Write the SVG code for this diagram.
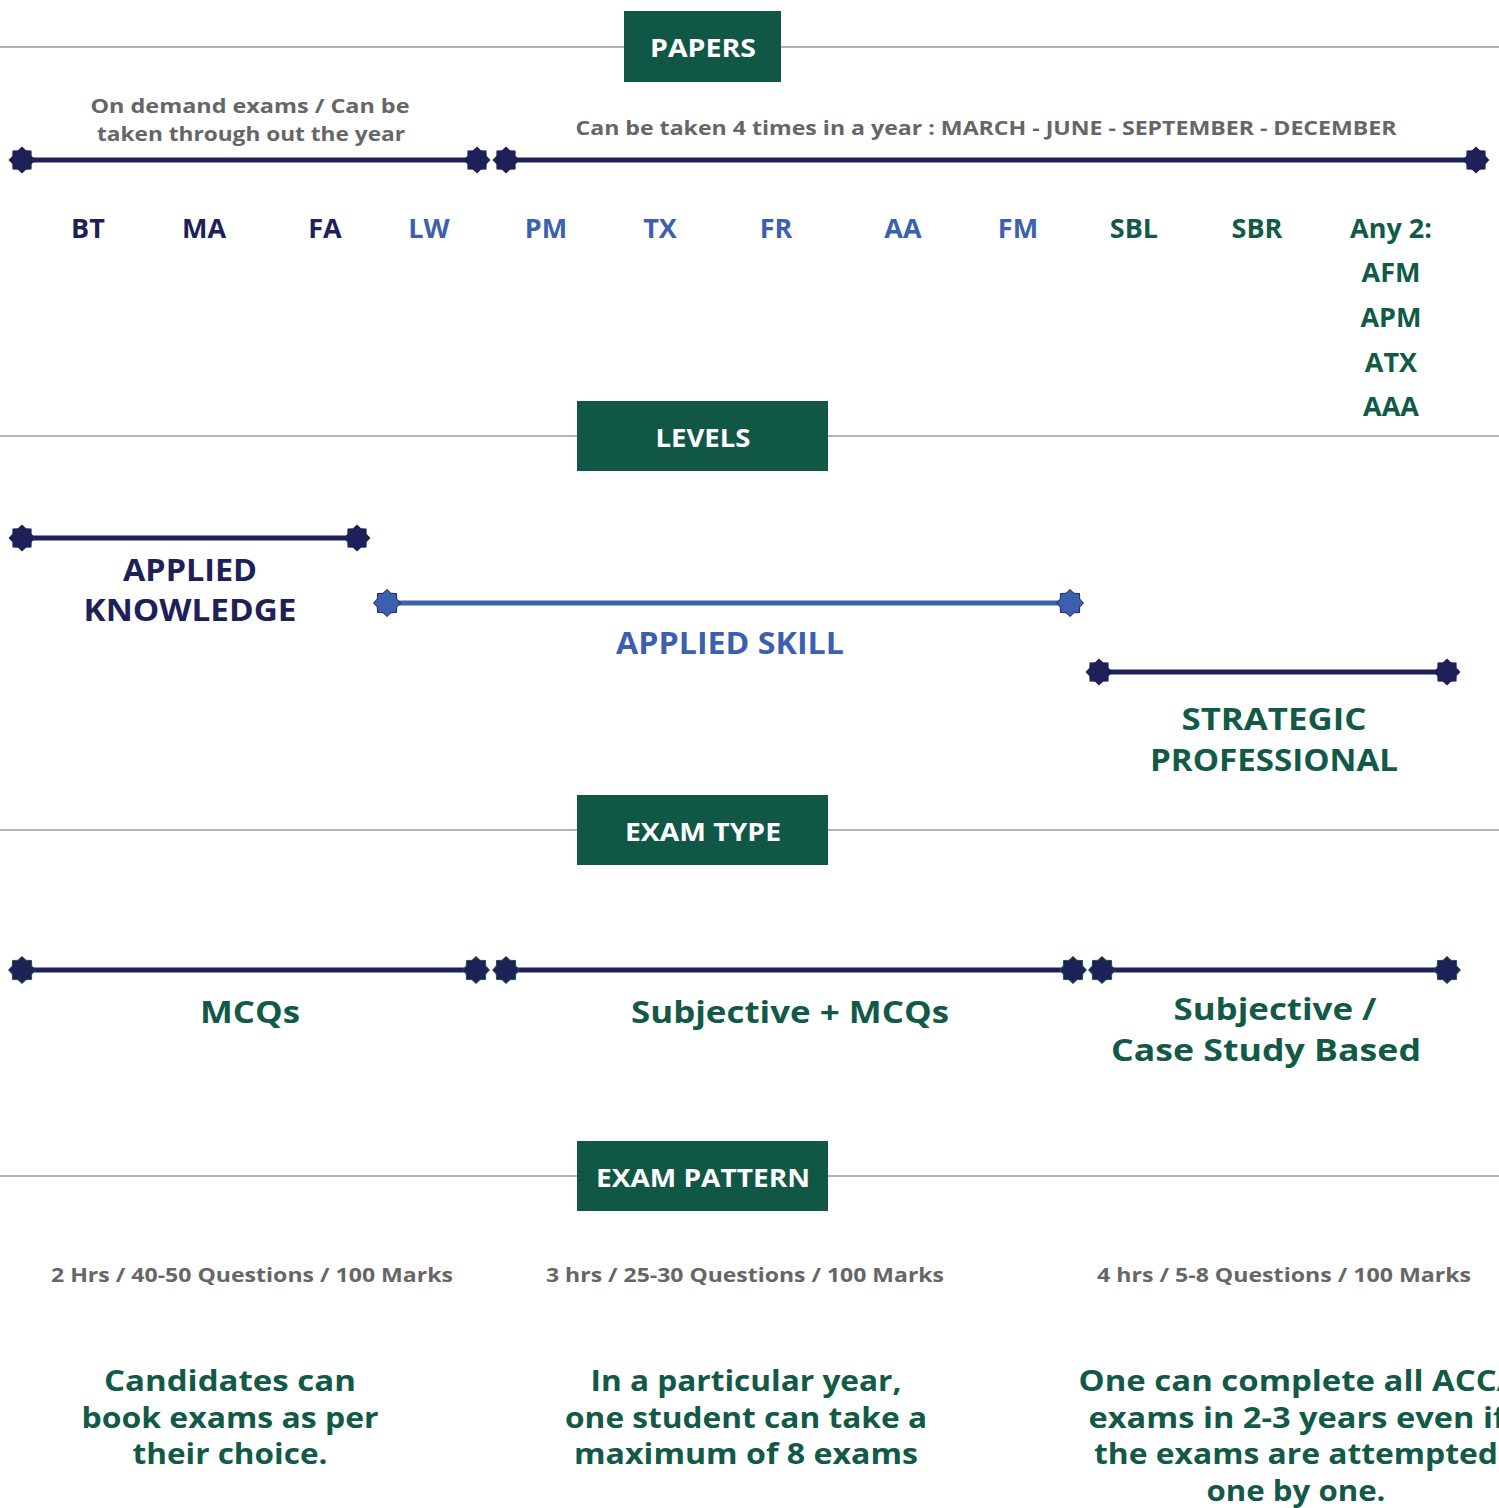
<svg xmlns="http://www.w3.org/2000/svg" width="1499" height="1508" viewBox="0 0 1499 1508">
<defs>
<style>
text{font-family:"Open Sans","Liberation Sans",sans-serif;font-weight:700;text-anchor:middle}
.rule{stroke:#9a9a9a;stroke-width:1.5}
.hbox{fill:#115746}
.htxt{fill:#fff;font-size:25px}
.gray{fill:#666;font-size:20px}
.navy{fill:#1e2157}
.blue{fill:#3d5fb0}
.green{fill:#125a47}
.code{font-size:27px}
.lvl{font-size:31px}
.typ{font-size:31px}
.body{font-size:28px}
.ln{stroke-width:5;fill:none}
.lnav{stroke:#1e2157}
.lblue{stroke:#3d5fb0}
</style>
<polygon id="star" points="0,-13.5 4,-9.7 9.5,-9.5 9.7,-4 13.5,0 9.7,4 9.5,9.5 4,9.7 0,13.5 -4,9.7 -9.5,9.5 -9.7,4 -13.5,0 -9.7,-4 -9.5,-9.5 -4,-9.7"/>
</defs>
<rect width="1499" height="1508" fill="#fff"/>

<g id="rules">
<line class="rule" x1="0" y1="47" x2="1499" y2="47"/>
<line class="rule" x1="0" y1="436" x2="1499" y2="436"/>
<line class="rule" x1="0" y1="830" x2="1499" y2="830"/>
<line class="rule" x1="0" y1="1176" x2="1499" y2="1176"/>
</g>

<g id="connectors">
<line class="ln lnav" x1="22" y1="160" x2="477" y2="160"/>
<line class="ln lnav" x1="506" y1="160" x2="1476" y2="160"/>
<line class="ln lnav" x1="22" y1="538" x2="357" y2="538"/>
<line class="ln lblue" x1="387" y1="603" x2="1070" y2="603"/>
<line class="ln lnav" x1="1099" y1="672" x2="1447" y2="672"/>
<line class="ln lnav" x1="22" y1="970" x2="476" y2="970"/>
<line class="ln lnav" x1="506" y1="970" x2="1073" y2="970"/>
<line class="ln lnav" x1="1102" y1="970" x2="1447" y2="970"/>
</g>

<g id="markers" fill="#1e2157">
<use href="#star" x="22" y="160"/>
<use href="#star" x="477" y="160"/>
<use href="#star" x="506" y="160"/>
<use href="#star" x="1476" y="160"/>
<use href="#star" x="22" y="538"/>
<use href="#star" x="357" y="538"/>
<use href="#star" x="387" y="603" fill="#3d5fb0" stroke="#1e2157" stroke-width="1"/>
<use href="#star" x="1070" y="603" fill="#3d5fb0" stroke="#1e2157" stroke-width="1"/>
<use href="#star" x="1099" y="672"/>
<use href="#star" x="1447" y="672"/>
<g stroke="#125a47" stroke-width="1">
<use href="#star" x="22" y="970"/>
<use href="#star" x="476" y="970"/>
<use href="#star" x="506" y="970"/>
<use href="#star" x="1073" y="970"/>
<use href="#star" x="1102" y="970"/>
<use href="#star" x="1447" y="970"/>
</g>
</g>

<g id="hdr-papers">
<rect class="hbox" x="624" y="11" width="157" height="71"/>
<text class="htxt" x="703" y="57" textLength="106" lengthAdjust="spacingAndGlyphs">PAPERS</text>
</g>
<g id="hdr-levels">
<rect class="hbox" x="577" y="401" width="251" height="70"/>
<text class="htxt" x="703" y="447" textLength="95" lengthAdjust="spacingAndGlyphs">LEVELS</text>
</g>
<g id="hdr-examtype">
<rect class="hbox" x="577" y="795" width="251" height="70"/>
<text class="htxt" x="703" y="841" textLength="156" lengthAdjust="spacingAndGlyphs">EXAM TYPE</text>
</g>
<g id="hdr-exampattern">
<rect class="hbox" x="577" y="1141" width="251" height="70"/>
<text class="htxt" x="703" y="1187" textLength="214" lengthAdjust="spacingAndGlyphs">EXAM PATTERN</text>
</g>

<g id="note-ondemand">
<text class="gray" x="250" y="113" textLength="319" lengthAdjust="spacingAndGlyphs">On demand exams / Can be</text>
<text class="gray" x="251" y="141" textLength="308" lengthAdjust="spacingAndGlyphs">taken through out the year</text>
</g>
<g id="note-4times">
<text class="gray" x="986" y="135" textLength="821" lengthAdjust="spacingAndGlyphs">Can be taken 4 times in a year : MARCH - JUNE - SEPTEMBER - DECEMBER</text>
</g>

<g id="papers">
<text class="code navy" x="88" y="238">BT</text>
<text class="code navy" x="204" y="238">MA</text>
<text class="code navy" x="325" y="238">FA</text>
<text class="code blue" x="429" y="238">LW</text>
<text class="code blue" x="546" y="238">PM</text>
<text class="code blue" x="660" y="238">TX</text>
<text class="code blue" x="776" y="238">FR</text>
<text class="code blue" x="903" y="238">AA</text>
<text class="code blue" x="1018" y="238">FM</text>
<text class="code green" x="1134" y="238">SBL</text>
<text class="code green" x="1257" y="238">SBR</text>
<text class="code green" x="1391" y="238">Any 2:</text>
<text class="code green" x="1391" y="282">AFM</text>
<text class="code green" x="1391" y="327">APM</text>
<text class="code green" x="1391" y="372">ATX</text>
<text class="code green" x="1391" y="416">AAA</text>
</g>

<g id="level-ak">
<text class="lvl navy" x="190" y="581" textLength="134" lengthAdjust="spacingAndGlyphs">APPLIED</text>
<text class="lvl navy" x="190" y="621" textLength="213" lengthAdjust="spacingAndGlyphs">KNOWLEDGE</text>
</g>
<g id="level-as">
<text class="lvl blue" x="730" y="654" textLength="228" lengthAdjust="spacingAndGlyphs">APPLIED SKILL</text>
</g>
<g id="level-sp">
<text class="lvl green" x="1274" y="730" textLength="185" lengthAdjust="spacingAndGlyphs">STRATEGIC</text>
<text class="lvl green" x="1274" y="771" textLength="248" lengthAdjust="spacingAndGlyphs">PROFESSIONAL</text>
</g>

<g id="type-mcq">
<text class="typ green" x="250" y="1023" textLength="100" lengthAdjust="spacingAndGlyphs">MCQs</text>
</g>
<g id="type-subj-mcq">
<text class="typ green" x="790" y="1023" textLength="318" lengthAdjust="spacingAndGlyphs">Subjective + MCQs</text>
</g>
<g id="type-subj-case">
<text class="typ green" x="1275" y="1020" textLength="203" lengthAdjust="spacingAndGlyphs">Subjective /</text>
<text class="typ green" x="1266" y="1061" textLength="310" lengthAdjust="spacingAndGlyphs">Case Study Based</text>
</g>

<g id="pattern-1">
<text class="gray" x="252" y="1282" textLength="402" lengthAdjust="spacingAndGlyphs">2 Hrs / 40-50 Questions / 100 Marks</text>
<text class="body green" x="230" y="1391" textLength="252" lengthAdjust="spacingAndGlyphs">Candidates can</text>
<text class="body green" x="230" y="1428" textLength="297" lengthAdjust="spacingAndGlyphs">book exams as per</text>
<text class="body green" x="230" y="1464" textLength="195" lengthAdjust="spacingAndGlyphs">their choice.</text>
</g>
<g id="pattern-2">
<text class="gray" x="745" y="1282" textLength="398" lengthAdjust="spacingAndGlyphs">3 hrs / 25-30 Questions / 100 Marks</text>
<text class="body green" x="746" y="1391" textLength="311" lengthAdjust="spacingAndGlyphs">In a particular year,</text>
<text class="body green" x="746" y="1428" textLength="362" lengthAdjust="spacingAndGlyphs">one student can take a</text>
<text class="body green" x="746" y="1464" textLength="344" lengthAdjust="spacingAndGlyphs">maximum of 8 exams</text>
</g>
<g id="pattern-3">
<text class="gray" x="1284" y="1282" textLength="374" lengthAdjust="spacingAndGlyphs">4 hrs / 5-8 Questions / 100 Marks</text>
<text class="body green" x="1299" y="1391" textLength="441" lengthAdjust="spacingAndGlyphs">One can complete all ACCA</text>
<text class="body green" x="1297" y="1428" textLength="417" lengthAdjust="spacingAndGlyphs">exams in 2-3 years even if</text>
<text class="body green" x="1296" y="1464" textLength="404" lengthAdjust="spacingAndGlyphs">the exams are attempted</text>
<text class="body green" x="1296" y="1501" textLength="179" lengthAdjust="spacingAndGlyphs">one by one.</text>
</g>
</svg>
